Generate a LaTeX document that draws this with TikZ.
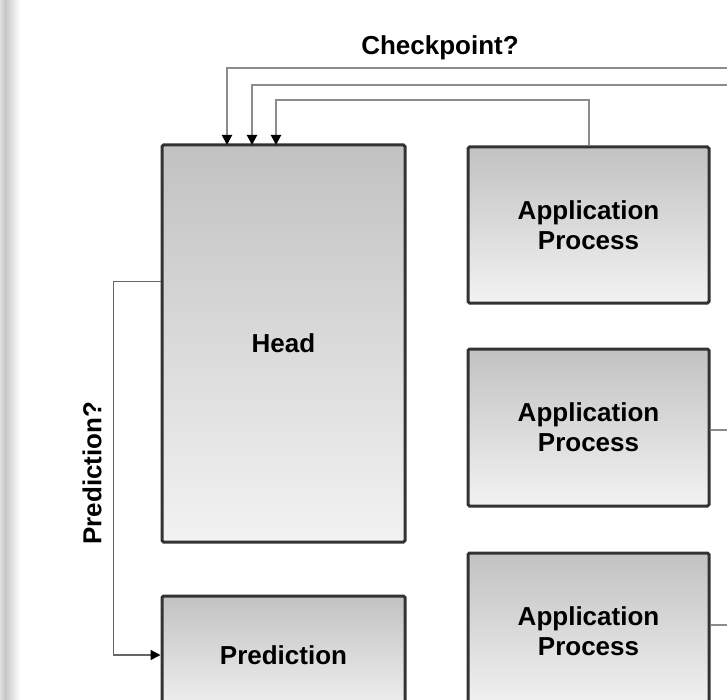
\documentclass[tikz,border=0pt]{standalone}
\usepackage{fontspec}
\setmainfont{Liberation Sans}
\usepackage{tikz}
\usetikzlibrary{positioning, calc, arrows.meta}

\begin{document}
\begin{tikzpicture}[x=1pt, y=-1pt,
    box/.style={draw=black!80, line width=3pt, rounded corners=1.5pt, top color=gray!48, bottom color=gray!10,
      align=center, font=\fontsize{26}{30}\selectfont\bfseries},
    conn/.style={draw=black!45, line width=2pt},
    tip/.style={-{Triangle[length=10pt, width=10pt, color=black]}}]
      \clip (0,0) rectangle (727,700);
      % left page edge
      \shade[left color=gray!25, right color=gray!45] (0,0) rectangle (5,700);
      \shade[left color=gray!45, right color=white] (5,0) rectangle (20,700);

      % boxes
      \node[box, minimum width=243pt, minimum height=397pt] (head) at (283.5, 343.5) {Head};
      \node[box, minimum width=243pt, minimum height=118pt] (pred) at (283.5, 655) {Prediction};
      \node[box, minimum width=241pt, minimum height=156pt] (app1) at (588.5, 225) {Application\\Process};
      \node[box, minimum width=241pt, minimum height=157pt] (app2) at (588.5, 427.5) {Application\\Process};
      \node[box, minimum width=241pt, minimum height=156pt] (app3) at (588.5, 631) {Application\\Process};

      % labels
      \node[font=\fontsize{26}{30}\selectfont\bfseries] (cklabel) at (440, 48) {Checkpoint?};
      \node[font=\fontsize{26}{30}\selectfont\bfseries, rotate=90] (predlabel) at (92, 473) {Prediction?};

      % checkpoint lines
      \coordinate (ck1) at (740, 68);
      \coordinate (ck2) at (740, 85);
      \coordinate (in1) at (227, 145);
      \coordinate (in2) at (252, 145);
      \coordinate (in3) at (276, 145);
      \coordinate (out2) at (740, 430);
      \coordinate (out3) at (740, 625);
      \draw[conn, tip] (ck1) -| (in1);
      \draw[conn, tip] (ck2) -| (in2);
      \draw[conn, tip] (app1.north) -- ++(0,-45) -| (in3);
      \draw[conn] (app2.east |- out2) -- (out2);
      \draw[conn] (app3.east |- out3) -- (out3);

      % prediction line
      \draw[draw=black!60, line width=1.5pt, tip] ($(head.north west)+(0,138)$) -- ++(-47,0) |- (pred.west);
    \end{tikzpicture}
\end{document}
